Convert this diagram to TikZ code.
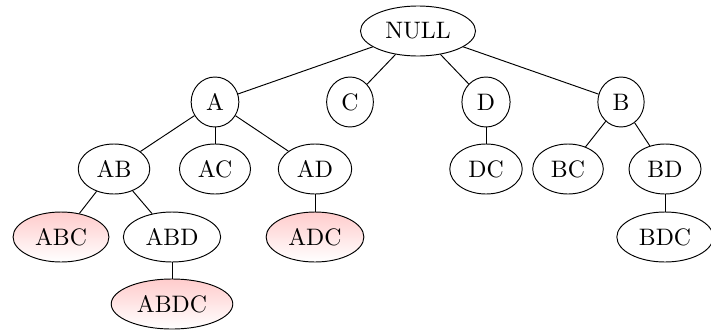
\documentclass[tikz,border=0pt]{standalone}
\usetikzlibrary{shapes.geometric}
\begin{document}
\begin{tikzpicture}[x=0.42pt,y=-0.42pt,
  nd/.style={draw,ellipse,minimum height=21pt},
  hit/.style={nd,top color=red!20,bottom color=white}]
\useasboundingbox (0,0) rectangle (711,331);
\node[nd] (null) at (418,31) {NULL};
\node[nd] (a) at (215,102) {A};
\node[nd] (c) at (350,102) {C};
\node[nd] (d) at (486,102) {D};
\node[nd] (b) at (621,102) {B};
\node[nd] (ab) at (114,169) {AB};
\node[nd] (ac) at (215,169) {AC};
\node[nd] (ad) at (315,169) {AD};
\node[nd] (dc) at (486,169) {DC};
\node[nd] (bc) at (568,169) {BC};
\node[nd] (bd) at (665,169) {BD};
\node[hit] (abc) at (61,237) {ABC};
\node[nd] (abd) at (172,237) {ABD};
\node[hit] (adc) at (315,237) {ADC};
\node[nd] (bdc) at (665,237) {BDC};
\node[hit] (abdc) at (172,304) {ABDC};
\draw (null) -- (a);
\draw (null) -- (c);
\draw (null) -- (d);
\draw (null) -- (b);
\draw (a) -- (ab);
\draw (a) -- (ac);
\draw (a) -- (ad);
\draw (d) -- (dc);
\draw (b) -- (bc);
\draw (b) -- (bd);
\draw (ab) -- (abc);
\draw (ab) -- (abd);
\draw (ad) -- (adc);
\draw (bd) -- (bdc);
\draw (abd) -- (abdc);
\end{tikzpicture}
\end{document}
